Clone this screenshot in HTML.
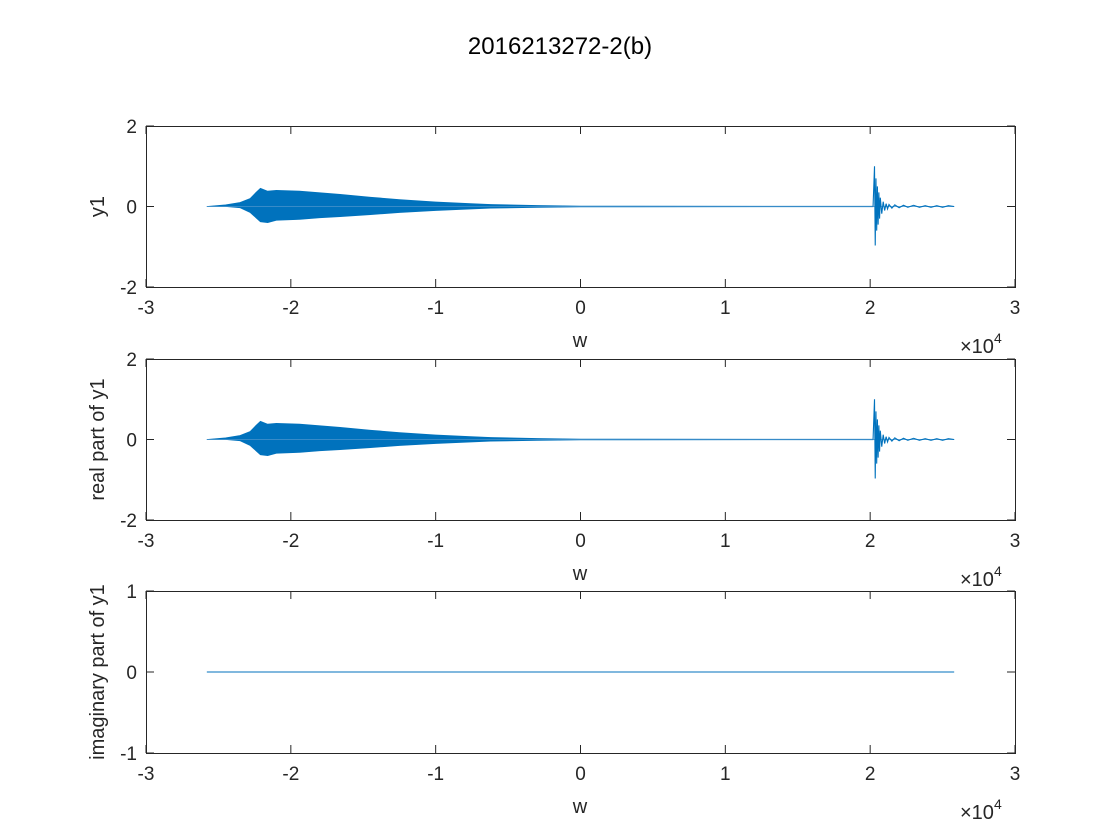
<!DOCTYPE html>
<html><head><meta charset="utf-8">
<style>
html,body{margin:0;padding:0;background:#fff;}
svg{display:block;font-family:"Liberation Sans",sans-serif;}
</style></head>
<body>
<svg id="fig" width="1120" height="840" viewBox="0 0 1120 840">
<text x="560" y="54" font-size="24" text-anchor="middle" fill="#000">2016213272-2(b)</text>
</svg>
<script>
// Data (w in units of 1e4)
const envW     = [-2.58,-2.45,-2.35,-2.28,-2.24,-2.21,-2.16,-2.1,-1.94,-1.8,-1.66,-1.45,-1.25,-1.0,-0.76,-0.62,-0.3,0.0,2.02];
const envUpper = [0.0,0.04,0.1,0.2,0.35,0.45,0.38,0.4,0.38,0.34,0.3,0.23,0.17,0.11,0.07,0.05,0.025,0.01,0.005];
const envLower = [0.0,0.0,-0.03,-0.15,-0.28,-0.38,-0.4,-0.34,-0.32,-0.28,-0.25,-0.2,-0.15,-0.1,-0.06,-0.04,-0.02,-0.01,-0.005];
const spikeW = [2.02,2.03,2.035,2.04,2.045,2.05,2.055,2.06,2.065,2.07,2.08,2.09,2.1,2.11,2.12,2.13,2.15,2.17,2.2,2.23,2.26,2.3,2.34,2.38,2.42,2.46,2.5,2.54,2.58];
const spikeV = [0.0,1.0,-0.97,0.7,-0.6,0.5,-0.45,0.35,-0.3,0.22,-0.18,0.12,-0.1,0.07,-0.06,0.05,-0.04,0.04,-0.03,0.03,-0.02,0.03,-0.02,0.02,-0.02,0.02,-0.02,0.02,0.0];
const imagW = [-2.58,2.58];
const imagV = [0,0];
const xTicks = [-3,-2,-1,0,1,2,3];

const NS="http://www.w3.org/2000/svg";
const svg=document.getElementById('fig');
function mk(tag,attrs,parent){const e=document.createElementNS(NS,tag);for(const k in attrs)e.setAttribute(k,attrs[k]);(parent||svg).appendChild(e);return e;}
const L=146,R=1015;
const xs=v=>L+(v+3)/6*(R-L);

function panel(top,bot,ymin,ymax,yTicks,ylabel,key,drawFn){
  const g=mk('g',{});
  
  
  const ys=v=>bot-(v-ymin)/(ymax-ymin)*(bot-top);
  drawFn(g,ys);
  const box=mk('rect',{x:L+0.5,y:top+0.5,width:R-L,height:bot-top,fill:'none',stroke:'#262626','stroke-width':1},g);
  
  
  xTicks.forEach(t=>{
    const x=xs(t);
    mk('line',{x1:x,x2:x,y1:bot,y2:bot-8,stroke:'#262626'},g);
    mk('line',{x1:x,x2:x,y1:top,y2:top+8,stroke:'#262626'},g);
    const tx=mk('text',{x:x,y:bot+27,'font-size':19,'text-anchor':'middle',fill:'#262626'},g);
    tx.textContent=t;
    
    
  });
  yTicks.forEach(t=>{
    const y=ys(t);
    mk('line',{x1:L,x2:L+8,y1:y,y2:y,stroke:'#262626'},g);
    mk('line',{x1:R,x2:R-8,y1:y,y2:y,stroke:'#262626'},g);
    const tx=mk('text',{x:L-9,y:y+7,'font-size':19,'text-anchor':'end',fill:'#262626'},g);
    tx.textContent=t;
    
    
  });
  const xl=mk('text',{x:580,y:bot+60,'font-size':20,'text-anchor':'middle',fill:'#262626'},g);
  xl.textContent='w';
  
  
  const cy=(top+bot)/2;
  const yl=mk('text',{x:104,y:cy,'font-size':20,'text-anchor':'middle',fill:'#262626',transform:`rotate(-90 104 ${cy})`},g);
  yl.textContent=ylabel;
  
  
  const ex=mk('text',{x:960,y:bot+66,'font-size':20,fill:'#262626'},g);
  ex.innerHTML='×10<tspan dy="-10" font-size="14">4</tspan>';
  
  
}

function drawSignal(g,ys){
  let pts=envW.map((w,i)=>xs(w)+','+ys(envUpper[i]));
  for(let i=envW.length-1;i>=0;i--)pts.push(xs(envW[i])+','+ys(envLower[i]));
  const env=mk('polygon',{points:pts.join(' '),fill:'#0072BD',stroke:'#0072BD','stroke-width':0.8},g);
  
  
  const base=mk('line',{x1:xs(envW[0]),x2:xs(spikeW[spikeW.length-1]),y1:ys(0),y2:ys(0),stroke:'#4a94cc','stroke-width':0.7},g);
  
  
  const sp=mk('polyline',{points:spikeW.map((w,i)=>xs(w)+','+ys(spikeV[i])).join(' '),fill:'none',stroke:'#0072BD','stroke-width':1.1},g);
  
  
}

panel(126,287,-2,2,[-2,0,2],'y1','y1',drawSignal);
panel(359,520,-2,2,[-2,0,2],'real part of y1','real',drawSignal);
panel(591,753,-1,1,[-1,0,1],'imaginary part of y1','imag',(g,ys)=>{
  const ln=mk('polyline',{points:imagW.map((w,i)=>xs(w)+','+ys(imagV[i])).join(' '),fill:'none',stroke:'#0072BD','stroke-width':1},g);
  
  
});
</script>
</body></html>
